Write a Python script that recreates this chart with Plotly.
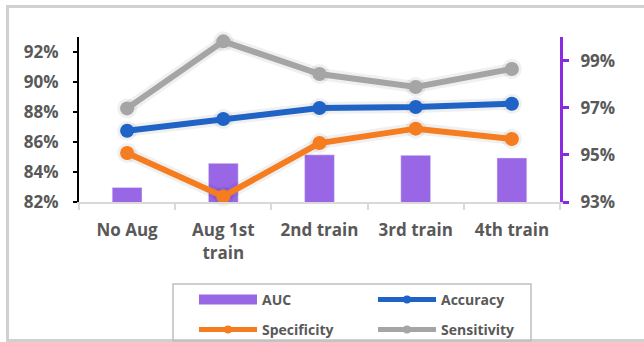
import plotly.graph_objects as go

categories = ["No Aug", "Aug 1st<br>train", "2nd train", "3rd train", "4th train"]
auc = [93.62, 94.64, 95.00, 94.98, 94.87]
accuracy = [86.75, 87.53, 88.27, 88.33, 88.55]
specificity = [85.27, 82.37, 85.93, 86.89, 86.20]
sensitivity = [88.24, 92.71, 90.53, 89.67, 90.87]
left_ticks = [82, 84, 86, 88, 90, 92]
right_ticks = [93, 95, 97, 99]

W, H = 644, 342
L, R, T, B = 79, 84, 37, 140
pw, ph = W - L - R, H - T - B

def px(x):
    return (x - L) / pw

def py(y):
    return (H - B - y) / ph

FONT = "Open Sans"
TXT = "#595959"
PURPLE = "#9966E6"

fig = go.Figure()
fig.add_trace(go.Bar(x=categories, y=auc, name="AUC", marker_color=PURPLE,
                     width=0.31, yaxis="y", showlegend=False))

line_specs = [
    ("Accuracy", accuracy, "#1F63C6", "legend"),
    ("Specificity", specificity, "#F57C1F", "legend2"),
    ("Sensitivity", sensitivity, "#A5A5A5", "legend2"),
]
# soft glow under lines
for name, vals, col, lg in line_specs:
    fig.add_trace(go.Scatter(x=categories, y=vals, mode="lines+markers", yaxis="y2",
                             line=dict(color="rgba(0,0,0,0.06)", width=12),
                             marker=dict(size=20, color="rgba(0,0,0,0.06)"),
                             showlegend=False, hoverinfo="skip", cliponaxis=False))
for name, vals, col, lg in line_specs:
    fig.add_trace(go.Scatter(x=categories, y=vals, name=name, mode="lines+markers",
                             yaxis="y2", line=dict(color=col, width=6),
                             marker=dict(size=14, color=col), showlegend=False,
                             cliponaxis=False))

# legend entries (no data drawn)
fig.add_trace(go.Scatter(x=[None], y=[None], name="AUC", mode="lines", yaxis="y2",
                         line=dict(color=PURPLE, width=10), legend="legend"))
for name, vals, col, lg in line_specs:
    fig.add_trace(go.Scatter(x=[None], y=[None], name=name, mode="lines+markers",
                             yaxis="y2", line=dict(color=col, width=5),
                             marker=dict(size=8, color=col), legend=lg))

legend_common = dict(orientation="h", xref="container", yref="container",
                     xanchor="left", yanchor="top", entrywidth=106,
                     entrywidthmode="pixels", itemwidth=58,
                     font=dict(size=14, family=FONT, color=TXT, weight="bold"),
                     bgcolor="rgba(0,0,0,0)", traceorder="normal")

fig.update_layout(
    width=W, height=H,
    margin=dict(l=L, r=R, t=T, b=B),
    paper_bgcolor="white", plot_bgcolor="white",
    font=dict(family=FONT, color=TXT),
    xaxis=dict(showgrid=False, showline=True, linecolor="#D9D9D9", linewidth=2,
               ticks="outside", tickson="boundaries", ticklen=6, tickcolor="#D9D9D9",
               tickwidth=2, tickfont=dict(size=17, family=FONT, color=TXT, weight="bold"),
               ticklabelstandoff=12),
    yaxis=dict(side="right", range=[93, 100], tickvals=right_ticks,
               ticktext=[f"{v}%" for v in right_ticks], showgrid=False, zeroline=False,
               showline=True, linecolor="#8A2BE2", linewidth=3, ticks="outside",
               ticklen=6, tickwidth=3, tickcolor="#8A2BE2",
               tickfont=dict(size=17, family=FONT, color=TXT, weight="bold"),
               ticklabelstandoff=8),
    yaxis2=dict(side="left", overlaying="y", range=[82, 93], tickvals=left_ticks,
                ticktext=[f"{v}%" for v in left_ticks], showgrid=False, zeroline=False,
                showline=True, linecolor="#000000", linewidth=2, ticks="outside",
                ticklen=4, tickwidth=2, tickcolor="#000000",
                tickfont=dict(size=17, family=FONT, color=TXT, weight="bold"),
                ticklabelstandoff=11),
    legend=dict(x=194 / W, y=1 - 284 / H, **legend_common),
    legend2=dict(x=194 / W, y=1 - 314 / H, **legend_common),
    shapes=[
        dict(type="rect", xref="paper", yref="paper", x0=px(7.5), x1=px(660),
             y0=py(340.5), y1=py(6.5), line=dict(color="#D0D0D0", width=3),
             fillcolor="rgba(0,0,0,0)", layer="below"),
        dict(type="rect", xref="paper", yref="paper", x0=px(173), x1=px(531),
             y0=py(341), y1=py(284), line=dict(color="#BFBFBF", width=1.5),
             fillcolor="rgba(0,0,0,0)", layer="below"),
    ],
    bargap=0.69,
)

fig.write_html("out.html")
